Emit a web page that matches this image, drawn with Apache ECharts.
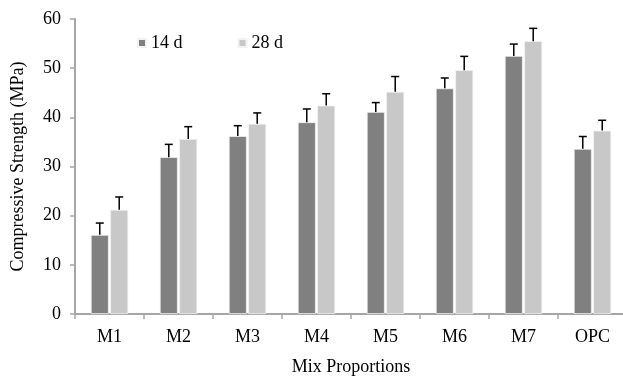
<!DOCTYPE html>
<html>
<head>
<meta charset="utf-8">
<script src="https://cdn.jsdelivr.net/npm/echarts@6/dist/echarts.min.js"></script>
<style>
  html, body { margin: 0; padding: 0; background: #ffffff; }
  #chart { width: 623px; height: 376px; }
</style>
</head>
<body>
<div id="chart"></div>
<script>
// Compressive strength of each mix at 14 and 28 days, with upward error bars
const categories = ['M1', 'M2', 'M3', 'M4', 'M5', 'M6', 'M7', 'OPC'];
const strength14 = [16.1, 31.9, 36.2, 39.0, 41.1, 45.9, 52.5, 33.6];
const strength28 = [21.2, 35.6, 38.7, 42.4, 45.2, 49.6, 55.5, 37.3];
const error14 = [2.4, 2.6, 2.1, 2.7, 1.9, 2.1, 2.4, 2.5];
const error28 = [2.6, 2.5, 2.2, 2.4, 3.1, 2.8, 2.6, 2.1];
const yTicks = [0, 10, 20, 30, 40, 50, 60];

const FONT = '"Liberation Serif", "Times New Roman", serif';
const FONT_SIZE = 18;
const BAR_W = 18;
const BAR_GAP = 0.08;
const AXIS_COLOR = '#a6a6a6';

// Draw a T-shaped error bar above a bar shifted by `side` bar-slots
function errorBarRenderer(values, errors, side) {
  return function (params, api) {
    const i = api.value(0);
    const base = api.coord([i, values[i]]);
    const top = api.coord([i, values[i] + errors[i]]);
    const x = base[0] + side * (BAR_W * (1 + BAR_GAP)) / 2;
    const cap = 4;
    const style = { stroke: '#000000', lineWidth: 1.5 };
    return {
      type: 'group',
      children: [
        { type: 'line', shape: { x1: x, y1: base[1], x2: x, y2: top[1] }, style: style },
        { type: 'line', shape: { x1: x - cap, y1: top[1], x2: x + cap, y2: top[1] }, style: style }
      ]
    };
  };
}

const textBase = { fontFamily: FONT, fontSize: FONT_SIZE, color: '#000000' };

const chart = echarts.init(document.getElementById('chart'));
chart.setOption({
  animation: false,
  backgroundColor: '#ffffff',
  textStyle: { fontFamily: FONT },
  grid: {
    left: 75, top: 19, width: 552, bottom: 62,
    containLabel: false,
    outerBoundsMode: 'none'
  },
  legend: {
    left: 132,
    top: 29,
    itemWidth: 8,
    itemHeight: 8,
    itemGap: 55,
    icon: 'rect',
    textStyle: textBase,
    data: ['14 d', '28 d']
  },
  xAxis: {
    type: 'category',
    data: categories,
    name: 'Mix Proportions',
    nameLocation: 'middle',
    nameGap: 44,
    nameTextStyle: textBase,
    axisLine: { lineStyle: { color: AXIS_COLOR, width: 2 } },
    axisTick: { show: true, length: 5, lineStyle: { color: AXIS_COLOR, width: 1.5 } },
    axisLabel: Object.assign({ margin: 14 }, textBase),
    splitLine: { show: false }
  },
  yAxis: {
    type: 'value',
    min: yTicks[0],
    max: yTicks[yTicks.length - 1],
    interval: yTicks[1] - yTicks[0],
    name: 'Compressive Strength (MPa)',
    nameLocation: 'middle',
    nameGap: 48,
    nameTextStyle: textBase,
    axisLine: { show: true, lineStyle: { color: AXIS_COLOR, width: 2 } },
    axisTick: { show: true, length: 5, lineStyle: { color: AXIS_COLOR, width: 1.5 } },
    axisLabel: Object.assign({ margin: 14 }, textBase),
    splitLine: { show: false }
  },
  series: [
    {
      name: '14 d',
      type: 'bar',
      data: strength14,
      barWidth: BAR_W,
      barGap: (BAR_GAP * 100) + '%',
      itemStyle: { color: '#808080', borderColor: '#f2f2f2', borderWidth: 0.8 }
    },
    {
      name: '28 d',
      type: 'bar',
      data: strength28,
      barWidth: BAR_W,
      barGap: (BAR_GAP * 100) + '%',
      itemStyle: { color: '#c8c8c8', borderColor: '#f2f2f2', borderWidth: 0.8 }
    },
    {
      type: 'custom',
      renderItem: errorBarRenderer(strength14, error14, -1),
      data: categories.map((c, i) => [i]),
      encode: { x: 0 },
      z: 5,
      silent: true
    },
    {
      type: 'custom',
      renderItem: errorBarRenderer(strength28, error28, 1),
      data: categories.map((c, i) => [i]),
      encode: { x: 0 },
      z: 5,
      silent: true
    }
  ]
});
</script>
</body>
</html>
